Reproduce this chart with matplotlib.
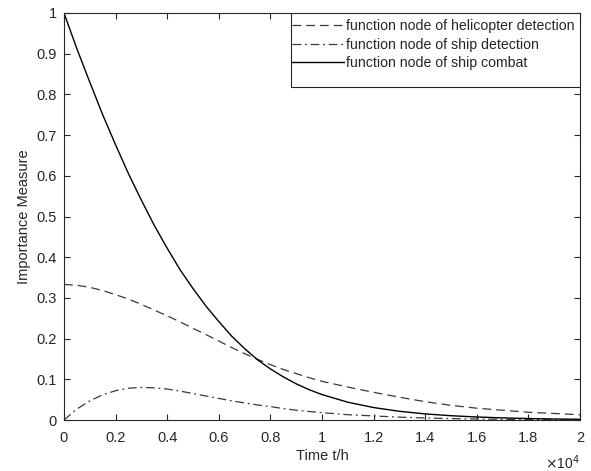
#!/usr/bin/env python3
"""Importance measure of three function nodes over time."""

import matplotlib
matplotlib.use('Agg')
import matplotlib.pyplot as plt
from matplotlib.patches import Rectangle
from matplotlib.ticker import FormatStrFormatter

plt.rcParams['font.family'] = ['Liberation Sans', 'DejaVu Sans']

axcol = '#262626'
fs = 10.5

# time in units of 1e4 h
t = [0, 0.05, 0.1, 0.15, 0.2, 0.25, 0.3, 0.35, 0.4, 0.45, 0.5, 0.55, 0.6,
     0.65, 0.7, 0.75, 0.8, 0.85, 0.9, 0.95, 1.0, 1.1, 1.2, 1.3, 1.4, 1.5,
     1.6, 1.7, 1.8, 1.9, 2.0]

heli_detect = [0.333, 0.331, 0.326, 0.318, 0.308, 0.297, 0.284, 0.270, 0.256,
               0.241, 0.225, 0.210, 0.194, 0.178, 0.163, 0.149, 0.136, 0.124,
               0.114, 0.104, 0.095, 0.081, 0.068, 0.056, 0.045, 0.036, 0.029,
               0.024, 0.019, 0.016, 0.013]

ship_detect = [0.0, 0.027, 0.047, 0.062, 0.072, 0.078, 0.080, 0.079, 0.076,
               0.071, 0.065, 0.059, 0.053, 0.047, 0.042, 0.037, 0.033, 0.028,
               0.024, 0.021, 0.018, 0.013, 0.010, 0.007, 0.005, 0.0035,
               0.0025, 0.0018, 0.0012, 0.0008, 0.0005]

ship_combat = [1.0, 0.912, 0.830, 0.750, 0.676, 0.605, 0.540, 0.478, 0.422,
               0.369, 0.323, 0.280, 0.242, 0.206, 0.1755, 0.148, 0.1255,
               0.106, 0.0889, 0.0745, 0.0625, 0.0437, 0.0306, 0.0214, 0.0150,
               0.0105, 0.0074, 0.0052, 0.0036, 0.0025, 0.0018]

labels = ['function node of helicopter detection',
          'function node of ship detection',
          'function node of ship combat']

fig = plt.figure(figsize=(5.91, 4.71), dpi=100)
ax = fig.add_axes([64 / 591, 51 / 471, 516 / 591, 407 / 471])

ax.plot(t, heli_detect, color='#3a3a3a', lw=0.9, linestyle=(0, (7, 4)),
        label=labels[0])
ax.plot(t, ship_detect, color='#3a3a3a', lw=0.9, linestyle=(0, (7, 3, 1.5, 3)),
        label=labels[1])
ax.plot(t, ship_combat, color='black', lw=1.0, label=labels[2])

ax.set_xlim(0, 2)
ax.set_ylim(0, 1)
ax.set_xticks([0, 0.2, 0.4, 0.6, 0.8, 1.0, 1.2, 1.4, 1.6, 1.8, 2.0])
ax.set_yticks([0, 0.1, 0.2, 0.3, 0.4, 0.5, 0.6, 0.7, 0.8, 0.9, 1.0])
ax.xaxis.set_major_formatter(FormatStrFormatter('%g'))
ax.yaxis.set_major_formatter(FormatStrFormatter('%g'))

for s in ax.spines.values():
    s.set_color(axcol)
    s.set_linewidth(0.8)
ax.tick_params(direction='in', length=4.5, width=0.8, colors=axcol,
               labelsize=fs, top=True, right=True, labelcolor=axcol)
ax.tick_params(axis='x', pad=8)
ax.tick_params(axis='y', pad=5)

ax.set_xlabel('Time t/h', fontsize=fs, color=axcol, labelpad=3)
ax.set_ylabel('Importance Measure', fontsize=fs, color=axcol, labelpad=4)
ax.text(1.0, -0.106, r'$\times$10$^4$', transform=ax.transAxes,
        ha='right', va='center', fontsize=10, color=axcol)

# MATLAB-style legend box: taller than its entries
box_x0 = (290.7 - 64) / 516
box_y0 = (420 - 87.3) / 407
ax.add_patch(Rectangle((box_x0, box_y0), 1 - box_x0, 1 - box_y0,
                       transform=ax.transAxes, facecolor='white',
                       edgecolor=axcol, lw=0.8, zorder=4))
leg = ax.legend(loc='upper left',
                bbox_to_anchor=((289 - 64) / 516, 1 - 3 / 407),
                borderaxespad=0, frameon=False, fontsize=10.2,
                handlelength=3.7, handletextpad=0.15, labelspacing=0.33,
                borderpad=0.2)
leg.set_zorder(5)
for txt in leg.get_texts():
    txt.set_color(axcol)

fig.savefig('out.png', dpi=100, facecolor='white')
